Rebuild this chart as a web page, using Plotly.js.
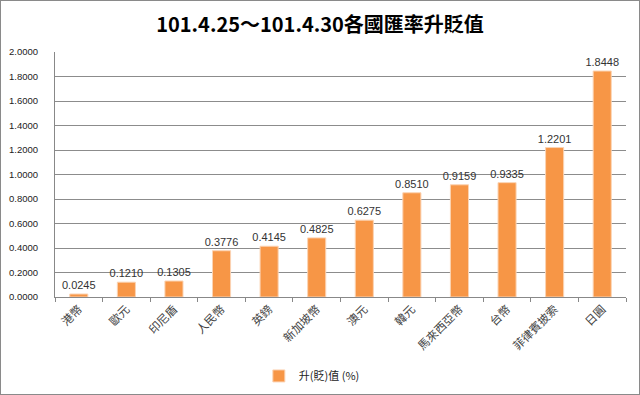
<!DOCTYPE html>
<html><head><meta charset="utf-8">
<script src="https://cdn.plot.ly/plotly-3.0.1.min.js"></script>
<style>
html,body{margin:0;padding:0;background:#fff;}
#wrap{width:640px;height:395px;box-sizing:border-box;border:1px solid #8a8a8a;}
#chart{width:638px;height:393px;}
</style></head>
<body><div id="wrap"><div id="chart"></div></div>
<script>
const categories = ["港幣","歐元","印尼盾","人民幣","英鎊","新加坡幣","澳元","韓元","馬來西亞幣","台幣","菲律賓披索","日圓"];
const values = [0.0245,0.1210,0.1305,0.3776,0.4145,0.4825,0.6275,0.8510,0.9159,0.9335,1.2201,1.8448];
const seriesName = "升(貶)值 (%)";
const titleText = "101.4.25～101.4.30各國匯率升貶值";

const fontFam = "'Liberation Sans','Noto Sans CJK TC',sans-serif";
Plotly.newPlot("chart", [{
  type: "bar",
  x: categories,
  y: values,
  name: seriesName,
  marker: {color: "#F79646", line: {color: "#FBD3B3", width: 1}},
  text: values.map(v => v.toFixed(4)),
  textposition: "outside",
  constraintext: "none",
  textfont: {family: fontFam, size: 11, color: "#333"},
  cliponaxis: false,
  showlegend: true
}], {
  width: 638, height: 393,
  margin: {l: 54, r: 13, t: 51, b: 97, autoexpand: false},
  paper_bgcolor: "#fff", plot_bgcolor: "#fff",
  bargap: 0.62,
  title: {text: titleText, x: 0.5, xanchor: "center", y: 0.94, yanchor: "middle",
          font: {family: "'Noto Sans CJK TC',sans-serif", size: 20, color: "#000", weight: "bold"}},
  xaxis: {
    type: "category",
    automargin: false,
    tickangle: -45,
    tickfont: {family: "'Noto Sans CJK TC',sans-serif", size: 11.5, color: "#444"},
    showline: true, linecolor: "#888", linewidth: 1,
    ticks: "outside", ticklen: 4, tickcolor: "#888", tickson: "boundaries",
    showgrid: false
  },
  yaxis: {
    automargin: false,
    range: [0, 2.0],
    dtick: 0.2,
    tickformat: ".4f",
    tickfont: {family: fontFam, size: 9.5, color: "#222"},
    ticklabelstandoff: 14,
    showline: true, linecolor: "#888", linewidth: 1,
    showgrid: true, gridcolor: "#8c8c8c", gridwidth: 1,
    zeroline: false,
    ticks: ""
  },
  legend: {orientation: "h", x: 0.357, xanchor: "left", yref: "container", y: 0.046, yanchor: "middle",
           itemwidth: 30,
           font: {family: "'Noto Sans CJK TC',sans-serif", size: 11, color: "#222"}},
  showlegend: true
}, {displayModeBar: false, staticPlot: true});
</script></body></html>
